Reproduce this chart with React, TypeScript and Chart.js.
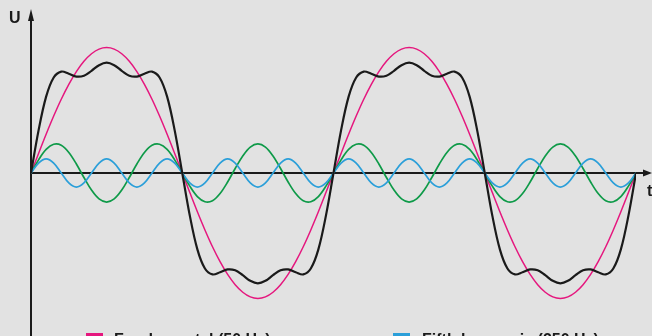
import React, { useEffect, useRef } from "react";
import { Chart, registerables } from "chart.js";

Chart.register(...registerables);

// time axis in milliseconds (two periods of 50 Hz)
const timeMs = [
  0, 0.5, 1, 1.5, 2, 2.5, 3, 3.5, 4, 4.5, 5, 5.5, 6, 6.5, 7, 7.5, 8, 8.5, 9, 9.5,
  10, 10.5, 11, 11.5, 12, 12.5, 13, 13.5, 14, 14.5, 15, 15.5, 16, 16.5, 17, 17.5, 18, 18.5, 19, 19.5,
  20, 20.5, 21, 21.5, 22, 22.5, 23, 23.5, 24, 24.5, 25, 25.5, 26, 26.5, 27, 27.5, 28, 28.5, 29, 29.5,
  30, 30.5, 31, 31.5, 32, 32.5, 33, 33.5, 34, 34.5, 35, 35.5, 36, 36.5, 37, 37.5, 38, 38.5, 39, 39.5,
  40,
];

const fundamental = [
  0, 0.156, 0.309, 0.454, 0.588, 0.707, 0.809, 0.891, 0.951, 0.988, 1, 0.988, 0.951, 0.891, 0.809, 0.707, 0.588, 0.454, 0.309, 0.156,
  0, -0.156, -0.309, -0.454, -0.588, -0.707, -0.809, -0.891, -0.951, -0.988, -1, -0.988, -0.951, -0.891, -0.809, -0.707, -0.588, -0.454, -0.309, -0.156,
  0, 0.156, 0.309, 0.454, 0.588, 0.707, 0.809, 0.891, 0.951, 0.988, 1, 0.988, 0.951, 0.891, 0.809, 0.707, 0.588, 0.454, 0.309, 0.156,
  0, -0.156, -0.309, -0.454, -0.588, -0.707, -0.809, -0.891, -0.951, -0.988, -1, -0.988, -0.951, -0.891, -0.809, -0.707, -0.588, -0.454, -0.309, -0.156,
  0,
];

const thirdHarmonic = [
  0, 0.105, 0.188, 0.229, 0.221, 0.164, 0.072, -0.036, -0.136, -0.207, -0.232, -0.207, -0.136, -0.036, 0.072, 0.164, 0.221, 0.229, 0.188, 0.105,
  0, -0.105, -0.188, -0.229, -0.221, -0.164, -0.072, 0.036, 0.136, 0.207, 0.232, 0.207, 0.136, 0.036, -0.072, -0.164, -0.221, -0.229, -0.188, -0.105,
  0, 0.105, 0.188, 0.229, 0.221, 0.164, 0.072, -0.036, -0.136, -0.207, -0.232, -0.207, -0.136, -0.036, 0.072, 0.164, 0.221, 0.229, 0.188, 0.105,
  0, -0.105, -0.188, -0.229, -0.221, -0.164, -0.072, 0.036, 0.136, 0.207, 0.232, 0.207, 0.136, 0.036, -0.072, -0.164, -0.221, -0.229, -0.188, -0.105,
  0,
];

const fifthHarmonic = [
  0, 0.079, 0.112, 0.079, 0, -0.079, -0.112, -0.079, 0, 0.079, 0.112, 0.079, 0, -0.079, -0.112, -0.079, 0, 0.079, 0.112, 0.079,
  0, -0.079, -0.112, -0.079, 0, 0.079, 0.112, 0.079, 0, -0.079, -0.112, -0.079, 0, 0.079, 0.112, 0.079, 0, -0.079, -0.112, -0.079,
  0, 0.079, 0.112, 0.079, 0, -0.079, -0.112, -0.079, 0, 0.079, 0.112, 0.079, 0, -0.079, -0.112, -0.079, 0, 0.079, 0.112, 0.079,
  0, -0.079, -0.112, -0.079, 0, 0.079, 0.112, 0.079, 0, -0.079, -0.112, -0.079, 0, 0.079, 0.112, 0.079, 0, -0.079, -0.112, -0.079,
  0,
];

const resultant = [
  0, 0.34, 0.609, 0.762, 0.809, 0.792, 0.769, 0.776, 0.815, 0.86, 0.88, 0.86, 0.815, 0.776, 0.769, 0.792, 0.809, 0.762, 0.609, 0.34,
  0, -0.34, -0.609, -0.762, -0.809, -0.792, -0.769, -0.776, -0.815, -0.86, -0.88, -0.86, -0.815, -0.776, -0.769, -0.792, -0.809, -0.762, -0.609, -0.34,
  0, 0.34, 0.609, 0.762, 0.809, 0.792, 0.769, 0.776, 0.815, 0.86, 0.88, 0.86, 0.815, 0.776, 0.769, 0.792, 0.809, 0.762, 0.609, 0.34,
  0, -0.34, -0.609, -0.762, -0.809, -0.792, -0.769, -0.776, -0.815, -0.86, -0.88, -0.86, -0.815, -0.776, -0.769, -0.792, -0.809, -0.762, -0.609, -0.34,
  0,
];

const legendLabels = ["Fundamental (50 Hz)", "Fifth harmonic (250 Hz)"];
const yAxisLabel = "U";
const xAxisLabel = "t";

const BG = "#e2e2e2";
const INK = "#1a1a1a";
const PINK = "#e5177e";
const GREEN = "#0e9a48";
const BLUE = "#2b9fd9";

const toPoints = (vals: number[]) => vals.map((v, i) => ({ x: timeMs[i], y: v }));

const arrowAxes = {
  id: "arrowAxes",
  beforeDatasetsDraw(chart: any) {
    const { ctx, scales } = chart;
    const x0 = scales.x.getPixelForValue(0);
    const y0 = scales.y.getPixelForValue(0);
    const W = chart.width;
    const H = chart.height;
    ctx.save();
    ctx.strokeStyle = INK;
    ctx.fillStyle = INK;
    ctx.lineWidth = 2;
    ctx.beginPath();
    ctx.moveTo(x0, H);
    ctx.lineTo(x0, 18);
    ctx.moveTo(x0, y0);
    ctx.lineTo(W - 6, y0);
    ctx.stroke();
    ctx.beginPath();
    ctx.moveTo(x0, 9);
    ctx.lineTo(x0 - 3, 21);
    ctx.lineTo(x0 + 3, 21);
    ctx.closePath();
    ctx.fill();
    ctx.beginPath();
    ctx.moveTo(W, y0);
    ctx.lineTo(W - 9, y0 - 3.5);
    ctx.lineTo(W - 9, y0 + 3.5);
    ctx.closePath();
    ctx.fill();
    ctx.restore();
  },
};

export default function App() {
  const ref = useRef<HTMLCanvasElement>(null);

  useEffect(() => {
    document.body.style.margin = "0";
    document.body.style.background = BG;
    const chart = new Chart(ref.current as HTMLCanvasElement, {
      type: "line",
      data: {
        datasets: [
          { label: "Resultant", data: toPoints(resultant), borderColor: INK, borderWidth: 2.2, order: 1 },
          { label: "Fifth harmonic (250 Hz)", data: toPoints(fifthHarmonic), borderColor: BLUE, borderWidth: 1.7, order: 2 },
          { label: "Third harmonic (150 Hz)", data: toPoints(thirdHarmonic), borderColor: GREEN, borderWidth: 1.7, order: 3 },
          { label: "Fundamental (50 Hz)", data: toPoints(fundamental), borderColor: PINK, borderWidth: 1.5, order: 4 },
        ],
      },
      options: {
        animation: false,
        responsive: false,
        layout: { padding: { left: 31, right: 16, top: 10, bottom: 0 } },
        scales: {
          x: { type: "linear", min: 0, max: 40, display: false },
          y: { type: "linear", min: -1.3, max: 1.3, display: false },
        },
        plugins: { legend: { display: false }, tooltip: { enabled: false } },
        elements: { point: { radius: 0 }, line: { tension: 0.35, fill: false } },
      },
      plugins: [arrowAxes],
    });
    return () => chart.destroy();
  }, []);

  const font = "'Liberation Sans', Arial, sans-serif";
  const text: React.CSSProperties = {
    position: "absolute",
    fontFamily: font,
    fontWeight: 700,
    fontSize: 16,
    lineHeight: "18px",
    color: INK,
    whiteSpace: "nowrap",
  };

  return (
    <div style={{ position: "relative", width: 652, height: 336, overflow: "hidden", background: BG }}>
      <canvas ref={ref} width={652} height={336} style={{ display: "block" }} />
      <span style={{ ...text, left: 9, top: 9 }}>{yAxisLabel}</span>
      <span style={{ ...text, left: 647, top: 182 }}>{xAxisLabel}</span>
      <span style={{ position: "absolute", left: 86, top: 333, width: 17, height: 17, background: PINK }} />
      <span style={{ ...text, left: 114, top: 331 }}>{legendLabels[0]}</span>
      <span style={{ position: "absolute", left: 393, top: 333, width: 17, height: 17, background: BLUE }} />
      <span style={{ ...text, left: 422, top: 331 }}>{legendLabels[1]}</span>
    </div>
  );
}
